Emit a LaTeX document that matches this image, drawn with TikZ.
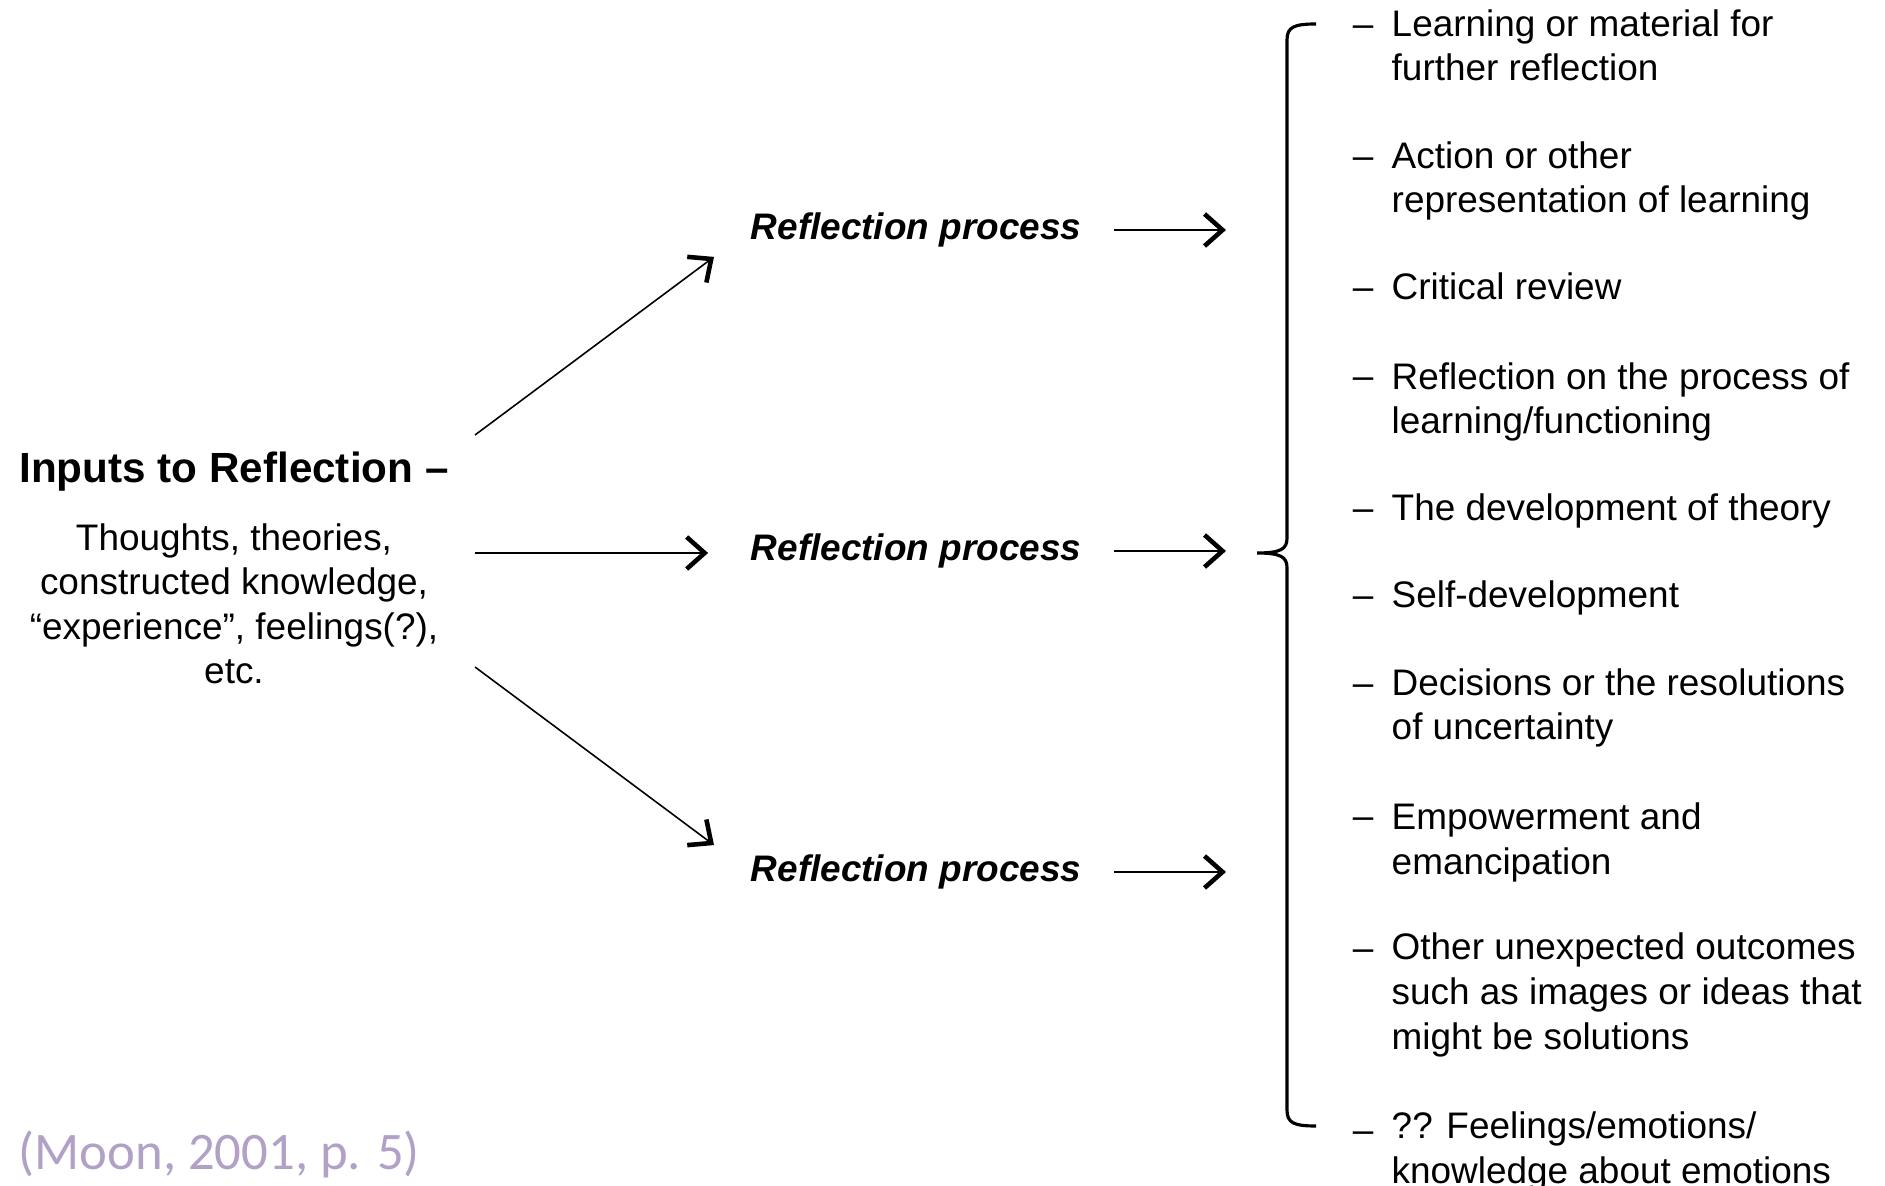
\documentclass[tikz,border=0pt]{standalone}
\usepackage{fontspec}
\setmainfont{Liberation Sans}
\newfontfamily\citefont{Carlito}
\usepackage{xcolor}
\usetikzlibrary{arrows.meta, positioning, calc}
\definecolor{citelav}{RGB}{178,161,199}

\begin{document}
\begin{tikzpicture}[
  x=0.01cm, y=-0.01cm,
  font=\fontsize{10.5}{12.7}\selectfont,
  heading/.style={font=\fontsize{12}{14}\selectfont\bfseries, inner sep=0pt},
  proc/.style={font=\fontsize{10.5}{12.7}\selectfont\bfseries\itshape, inner sep=0pt},
  item/.style={anchor=base west, align=left, inner sep=0pt},
  dashmark/.style={anchor=base, inner sep=0pt},
  feed/.style={line width=0.45pt, -{Straight Barb[length=0.18cm, width=0.32cm, line width=1.3pt]}},
  brk/.style={line width=0.9pt},
]
\useasboundingbox (0,0) rectangle (1885,1186);
% inputs (base = baseline of the last line)
\node[heading] (head) at (234,472) {Inputs to Reflection –};
\node[align=center, anchor=base, inner sep=0pt] (inputs) at (234,684) {Thoughts, theories,\\constructed knowledge,\\“experience”, feelings(?),\\etc.};
\coordinate (src1) at (475,435);
\coordinate (src2) at (475,553);
\coordinate (src3) at (475,667);
% the three processes
\node[proc] (rp1) at (916,230) {Reflection process};
\node[proc] (rp2) at (916,551) {Reflection process};
\node[proc] (rp3) at (916,872) {Reflection process};
\draw[feed, shorten >=0.45cm] (src1) -- (rp1.west);
\draw[feed, shorten >=0.42cm] (src2) -- (src2 -| rp2.west);
\draw[feed, shorten >=0.45cm] (src3) -- (rp3.west);
% brace
\coordinate (tip) at (1257,553);
\draw[brk] (1316,24) .. controls (1294,24) and (1287,27) .. (1287,40) -- (1287,538)
  .. controls (1287,549) and (1281,553) .. (tip)
  .. controls (1281,553) and (1287,557) .. (1287,568) -- (1287,1110)
  .. controls (1287,1123) and (1294,1126) .. (1316,1126);
\foreach \r in {rp1,rp2,rp3}{
  \draw[feed, shorten <=0.32cm, shorten >=0.31cm] (\r) -- (\r -| tip);
}
% outcomes: first baseline / last baseline / text
\foreach \y/\yl/\txt [count=\i] in {
  37/81/{Learning or material for\\further reflection},
  169/213/{Action or other\\representation of learning},
  300/300/{Critical review},
  389/434/{Reflection on the process of\\learning/functioning},
  521/521/{The development of theory},
  608/608/{Self-development},
  696/740/{Decisions or the resolutions\\of uncertainty},
  829/874/{Empowerment and\\emancipation},
  960/1049/{Other unexpected outcomes\\such as images or ideas that\\might be solutions},
  1142/1183/{?? Feelings/emotions/\\knowledge about emotions}}{
  \node[dashmark] (d\i) at (1363,\y) {–};
  \node[item] (o\i) at (1391,\yl) {\txt};
}
\node[font=\citefont\fontsize{15}{18}\selectfont, text=citelav, anchor=west, inner sep=0pt] (cite) at (18,1154) {(Moon, 2001, p. 5)};
\end{tikzpicture}
\end{document}
